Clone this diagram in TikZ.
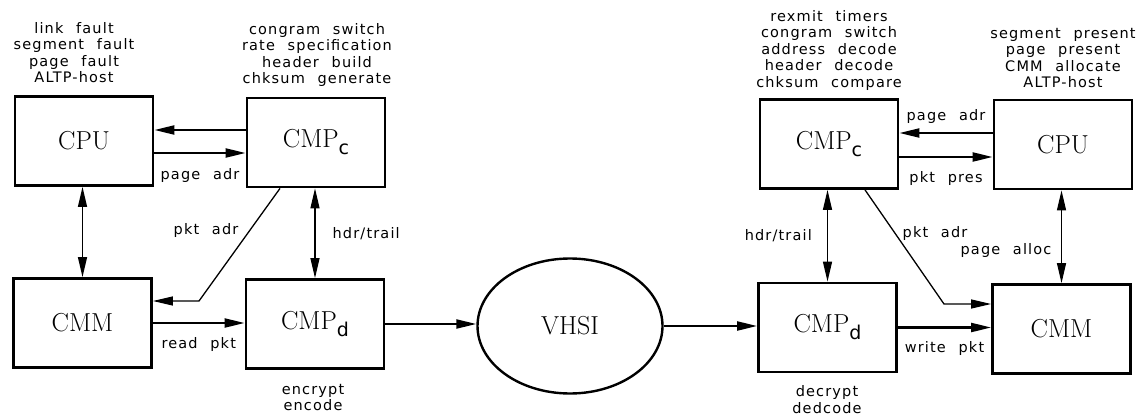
\documentclass[tikz,border=0pt]{standalone}
\usepackage{fontspec}
\usetikzlibrary{arrows.meta,shapes.geometric}
\newfontfamily\lblfont[LetterSpace=8,WordSpace=2.2]{DejaVu Sans}
\newcommand{\lowsub}[1]{\raisebox{-7pt}{\fontsize{19}{19}\selectfont\lblfont #1}}

\begin{document}
\begin{tikzpicture}[x=1pt, y=-1pt,
  box node/.style={rectangle,draw,line width=2.8pt,minimum width=138pt,minimum height=89pt,inner sep=0pt,font=\fontsize{26}{26}\selectfont},
  bus node/.style={ellipse,draw,line width=2.4pt,minimum width=185pt,minimum height=135pt,inner sep=0pt,font=\fontsize{26}{26}\selectfont},
  lbl/.style={font=\fontsize{14.5}{16.5}\selectfont\lblfont,inner sep=0pt,align=center},
  flow/.style={line width=2.2pt,-{Triangle[length=20pt,width=9pt]}},
  both/.style={line width=1.3pt,{Triangle[length=20pt,width=9pt]}-{Triangle[length=20pt,width=9pt]}},
  thin flow/.style={line width=1.3pt,-{Triangle[length=20pt,width=9pt]}}]
  \useasboundingbox (0,0) rectangle (1147,417);

  % sender side
  \node[box node] (cpuL) at (84,141) {CPU};
  \node[box node] (cmpcL) at (316,142.5) {CMP\lowsub{c}};
  \node[box node] (cmmL) at (82.5,323) {CMM};
  \node[box node] (cmpdL) at (315,324) {CMP\lowsub{d}};
  % link
  \node[bus node] (vhsi) at (570,326) {VHSI};
  % receiver side
  \node[box node] (cmpcR) at (829,144) {CMP\lowsub{c}};
  \node[box node] (cpuR) at (1063,144.5) {CPU};
  \node[box node] (cmpdR) at (827.5,327.5) {CMP\lowsub{d}};
  \node[box node] (cmmR) at (1061.5,329) {CMM};

  % jobs of each box
  \node[lbl] (jobsCpuL) at (74,52.5) {link fault\\segment fault\\page fault\\ALTP-host};
  \node[lbl] (jobsCmpcL) at (317,55) {congram switch\\rate specification\\header build\\chksum generate};
  \node[lbl] (jobsCmpdL) at (313,397.5) {encrypt\\encode};
  \node[lbl] (jobsCmpcR) at (829,50.5) {rexmit timers\\congram switch\\address decode\\header decode\\chksum compare};
  \node[lbl] (jobsCpuR) at (1063,58) {segment present\\page present\\CMM allocate\\ALTP-host};
  \node[lbl] (jobsCmpdR) at (827,399.5) {decrypt\\dedcode};

  \coordinate (bendL) at (199,301);
  \coordinate (bendR) at (944,304);

 \path[] ([yshift=12.5pt]cmpcL.west) [flow] edge node [] {} ([yshift=11pt]cpuL.east);
 \path[] ([yshift=-12pt]cpuL.east) [flow] edge node [lbl,below=14pt] {page adr} ([yshift=-10.5pt]cmpcL.west);
 \path[] (cpuL.south -| cmmL.north) [both] edge node [] {} (cmmL.north);
 \path[] (cmpcL.south -| cmpdL.north) [both] edge node [lbl,right=17pt] {hdr/trail} (cmpdL.north);
 \draw[thin flow] ([xshift=-36pt]cmpcL.south) -- (bendL) -- (bendL -| cmmL.east);
 \node[lbl] (pktadrL) at (206,230) {pkt adr};
 \path[] (cmmL.east) [flow] edge node [lbl,below=13pt] {read pkt} (cmmL.east -| cmpdL.west);
 \path[] (cmpdL.east) [flow] edge node [] {} (cmpdL.east -| vhsi.west);
 \path[] (vhsi.east) [flow] edge node [] {} (vhsi.east -| cmpdR.west);
 \path[] ([yshift=11.5pt]cpuR.west) [flow] edge node [lbl,above=8pt] {page adr} ([yshift=11pt]cmpcR.east);
 \path[] ([yshift=-13pt]cmpcR.east) [flow] edge node [lbl,below=13pt] {pkt pres} ([yshift=-12.5pt]cpuR.west);
 \path[] (cmpcR.south -| cmpdR.north) [both] edge node [lbl,left=15pt] {hdr/trail} (cmpdR.north);
 \path[] (cpuR.south -| cmmR.north) [both] edge node [] {} (cmmR.north);
 \draw[thin flow] ([xshift=36pt]cmpcR.south) -- (bendR) -- (bendR -| cmmR.west);
 \node[lbl] (pktadrR) at (935,233) {pkt adr};
 \node[lbl] (pageallocR) at (1006,250) {page alloc};
 \path[] (cmpdR.east) [flow] edge node [lbl,below=13pt] {write pkt} (cmpdR.east -| cmmR.west);
\end{tikzpicture}
\end{document}
